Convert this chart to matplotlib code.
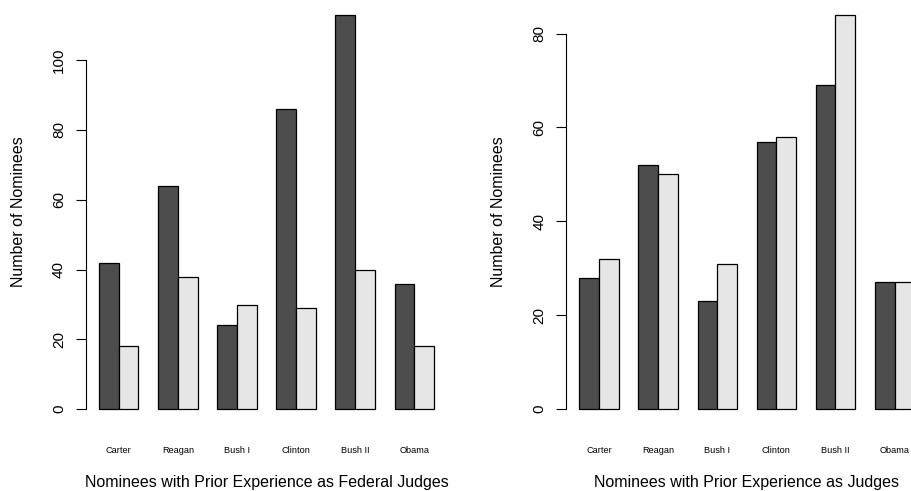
import numpy as np
import matplotlib
matplotlib.use("Agg")
import matplotlib.pyplot as plt

plt.rcParams['font.family'] = ['Liberation Sans', 'DejaVu Sans']

presidents = ["Carter", "Reagan", "Bush I", "Clinton", "Bush II", "Obama"]

# left panel: prior experience as federal judges
federal_dark = [42, 64, 24, 86, 113, 36]
federal_light = [18, 38, 30, 29, 40, 18]

# right panel: prior experience as judges
judges_dark = [28, 52, 23, 57, 69, 27]
judges_light = [32, 50, 31, 58, 84, 27]

yticks_left = [0, 20, 40, 60, 80, 100]
yticks_right = [0, 20, 40, 60, 80]

DARK = "#4d4d4d"
LIGHT = "#e6e6e6"

fig = plt.figure(figsize=(9.11, 4.91), dpi=100)


def barpanel(ax, dark, light, yticks, xlabel):
    # R-style beside barplot: width 1, one unit gap before each group
    n = len(dark)
    left = 1 + 3 * np.arange(n)
    ax.bar(left, dark, width=1, align='edge', color=DARK, edgecolor='black', linewidth=0.9)
    ax.bar(left + 1, light, width=1, align='edge', color=LIGHT, edgecolor='black', linewidth=0.9)

    xmax = left[-1] + 2
    xpad = 0.04 * (xmax - 1)
    ax.set_xlim(1 - xpad, xmax + xpad)
    ymax = max(max(dark), max(light))
    ax.set_ylim(-0.04 * ymax, 1.04 * ymax)

    for s in ['top', 'right', 'bottom']:
        ax.spines[s].set_visible(False)
    ax.spines['left'].set_bounds(yticks[0], yticks[-1])
    ax.spines['left'].set_linewidth(0.8)

    ax.set_yticks(yticks)
    ax.set_yticklabels([str(v) for v in yticks], rotation=90, va='center', fontsize=11)
    ax.tick_params(axis='y', length=7.2, width=0.8, pad=7)

    ax.set_xticks(left + 1)
    ax.set_xticklabels(presidents, fontsize=6.6)
    ax.tick_params(axis='x', length=0, pad=15)

    ax.set_ylabel("Number of Nominees", fontsize=11.5)
    ax.yaxis.label.set_va('center')
    ax.yaxis.set_label_coords(-0.187, 0.5)
    ax.set_xlabel(xlabel, fontsize=11.5)
    ax.xaxis.label.set_va('center')
    ax.xaxis.set_label_coords(0.5, -0.134)


ax1 = fig.add_axes([0.094, 0.1344, 0.397, 0.8676])
barpanel(ax1, federal_dark, federal_light, yticks_left,
         "Nominees with Prior Experience as Federal Judges")

ax2 = fig.add_axes([0.6213, 0.1344, 0.397, 0.8676])
barpanel(ax2, judges_dark, judges_light, yticks_right,
         "Nominees with Prior Experience as Judges")

fig.savefig("out.png", dpi=100)
